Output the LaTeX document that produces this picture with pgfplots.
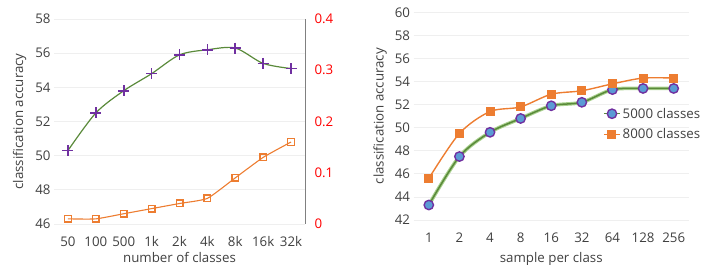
\documentclass[border=0pt]{standalone}
\usepackage{fontspec}
\setmainfont{Open Sans}
\usepackage{pgfplots}
\pgfplotsset{compat=1.18}
\definecolor{txt}{HTML}{404040}
\definecolor{gridc}{HTML}{EFEFEF}
\definecolor{dgreen}{HTML}{5A8A3A}
\definecolor{lgreen}{HTML}{A9D18E}
\definecolor{purp}{HTML}{7030A0}
\definecolor{oran}{HTML}{ED7D31}
\definecolor{blu}{HTML}{5B9BD5}
\newcommand{\tf}{\fontsize{13.3}{15}\selectfont}
\begin{document}
\begin{tikzpicture}[x=1pt,y=1pt]
\pgfplotsset{
  common/.style={
    scale only axis, anchor=south west,
    /pgf/number format/assume math mode=true,
    major tick length=0pt,
    tick label style={font=\tf, text=txt},
    xticklabel style={yshift=-9pt},
    label style={font=\tf, text=txt},
    grid style={gridc, line width=0.8pt},
    xtick={0,...,8}, xmin=-0.5, xmax=8.5,
  }
}
% left chart, left axis
\begin{axis}[common, at={(54pt,41pt)}, width=251pt, height=205pt,
  ymin=46, ymax=58, ytick={46,48,...,58}, ymajorgrids,
  axis line style={draw=none},
  xticklabels={50,100,500,1k,2k,4k,8k,16k,32k},
  xlabel={number of classes}, ylabel={classification accuracy},
  xlabel style={yshift=1pt}, ylabel style={yshift=2pt},
]
\addplot[dgreen, line width=1.2pt, smooth, tension=0.5, mark=+, mark size=5.5pt,
  mark options={purp, line width=1.6pt}]
  coordinates {(0,50.3)(1,52.5)(2,53.8)(3,54.8)(4,55.9)(5,56.2)(6,56.3)(7,55.4)(8,55.1)};
\end{axis}
% left chart, right axis
\begin{axis}[common, at={(54pt,41pt)}, width=251pt, height=205pt,
  ymin=0, ymax=0.4, ytick={0,0.1,...,0.4},
  axis x line=none, axis y line*=right,
  y axis line style={draw=gray, line width=0.8pt, -},
  yticklabel style={text=red, anchor=west, xshift=6pt},
  yticklabel={\pgfmathparse{\tick==0?0:1}\ifnum\pgfmathresult=0 0\else\pgfmathprintnumber[fixed,precision=1,fixed zerofill]{\tick}\fi},
  xticklabels={},
]
\addplot[oran, line width=1.1pt, smooth, tension=0.3, mark=square, mark size=3.3pt,
  mark options={oran, line width=1.4pt}]
  coordinates {(0,0.01)(1,0.01)(2,0.02)(3,0.03)(4,0.04)(5,0.05)(6,0.09)(7,0.13)(8,0.16)};
\end{axis}
% right chart
\begin{axis}[common, at={(413.5pt,45pt)}, width=275.5pt, height=207.7pt,
  ymin=42, ymax=60, ytick={42,44,...,60}, ymajorgrids,
  axis line style={draw=none},
  xticklabels={1,2,4,8,16,32,64,128,256},
  xlabel={sample per class}, ylabel={classification accuracy},
  xlabel style={yshift=-3pt}, ylabel style={yshift=1pt},
  legend style={at={(0.688,0.462)}, anchor=west, draw=none, fill=none,
    font=\tf, text=txt, row sep=5pt, inner sep=0pt,
    /tikz/every even column/.append style={column sep=0pt}},
  legend cell align=left,
  legend image code/.code={
    \draw[#1, mark repeat=2, mark phase=2] plot coordinates {(0pt,0pt) (8pt,0pt) (16pt,0pt)};},
]
\addplot[lgreen, line width=3.6pt, smooth, tension=0.5, forget plot]
  coordinates {(0,43.3)(1,47.5)(2,49.6)(3,50.8)(4,51.9)(5,52.2)(6,53.3)(7,53.4)(8,53.4)};
\addplot[dgreen, line width=1.5pt, smooth, tension=0.5, mark=*, mark size=4.7pt,
  mark options={fill=blu, draw=purp, line width=1.4pt}]
  coordinates {(0,43.3)(1,47.5)(2,49.6)(3,50.8)(4,51.9)(5,52.2)(6,53.3)(7,53.4)(8,53.4)};
\addlegendentry{5000 classes}
\addplot[oran, line width=1.4pt, smooth, tension=0.5, mark=square*, mark size=3.8pt,
  mark options={fill=oran, draw=oran}]
  coordinates {(0,45.6)(1,49.5)(2,51.4)(3,51.8)(4,52.9)(5,53.2)(6,53.8)(7,54.3)(8,54.3)};
\addlegendentry{8000 classes}
\end{axis}
\pgfresetboundingbox
\path (0,0) rectangle (702pt,265pt);
\end{tikzpicture}
\end{document}
